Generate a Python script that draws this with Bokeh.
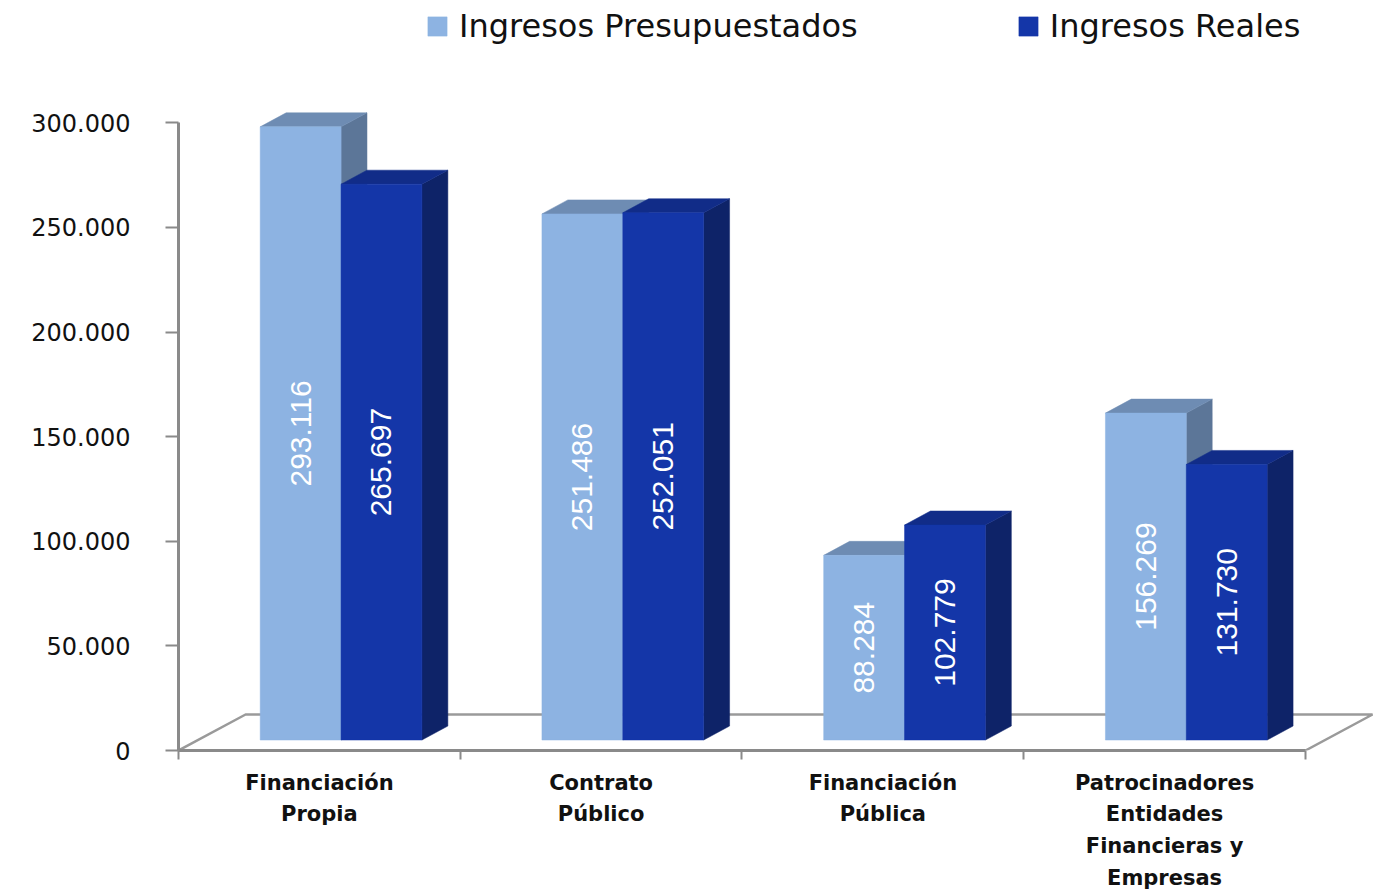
import math
from bokeh.plotting import figure
from bokeh.models import Range1d, FixedTicker, Legend, LegendItem, ColumnDataSource
from bokeh.core.properties import value
from bokeh.embed import file_html
from bokeh.resources import INLINE

# ---------------- data ----------------
categories = [
    "Financiación\nPropia",
    "Contrato\nPúblico",
    "Financiación\nPública",
    "Patrocinadores\nEntidades\nFinancieras y\nEmpresas",
]
series_names = ["Ingresos Presupuestados", "Ingresos Reales"]
presupuestados = [293116, 251486, 88284, 156269]
reales = [265697, 252051, 102779, 131730]
y_ticks = [0, 50000, 100000, 150000, 200000, 250000, 300000]
y_tick_labels = ["0", "50.000", "100.000", "150.000", "200.000", "250.000", "300.000"]

# ---------------- style ----------------
front_colors = ["#8DB3E2", "#1436A8"]
top_colors = ["#6E8CB3", "#112C88"]
side_colors = ["#5C7698", "#0E2368"]
AXIS_GRAY = "#8A8A8A"
BAR_OFFSET = 0.29     # category units
BAR_W = 0.287
DX = 0.092            # 3-D depth, category units
DY = 6700             # 3-D depth, value units
LIFT = 5000           # front face sits slightly above the floor front edge
FLOOR_DX = 0.238
FLOOR_DY = 17200

n = len(categories)
p = figure(
    frame_width=1196, frame_height=750,
    x_range=Range1d(0, 4.245), y_range=Range1d(0, 358500),
    output_backend="svg", toolbar_location=None,
    min_border_left=178, min_border_right=0, min_border_top=0, min_border_bottom=136,
)
p.outline_line_color = None
p.xgrid.visible = False
p.ygrid.visible = False
p.background_fill_color = "white"
p.border_fill_color = "white"

# floor (drawn first, behind the bars)
p.line(x=[0, FLOOR_DX, n + FLOOR_DX, n], y=[0, FLOOR_DY, FLOOR_DY, 0],
       line_color="#9A9A9A", line_width=2.5)

legend_items = []
for s, vals in enumerate([presupuestados, reales]):
    lefts = [i + BAR_OFFSET + s * BAR_W for i in range(n)]
    rights = [l + BAR_W for l in lefts]
    tops = [LIFT + v for v in vals]
    # side faces
    side_xs = [[r, r + DX, r + DX, r] for r in rights]
    side_ys = [[LIFT, LIFT + DY, t + DY, t] for t in tops]
    p.patches(side_xs, side_ys, fill_color=side_colors[s], line_color=side_colors[s], line_width=0.5)
    # top faces
    top_xs = [[l, r, r + DX, l + DX] for l, r in zip(lefts, rights)]
    top_ys = [[t, t, t + DY, t + DY] for t in tops]
    p.patches(top_xs, top_ys, fill_color=top_colors[s], line_color=top_colors[s], line_width=0.5)
    # front faces
    fr = p.quad(left=lefts, right=rights, bottom=[LIFT] * n, top=tops,
                fill_color=front_colors[s], line_color=front_colors[s], line_width=0.5)
    legend_items.append(LegendItem(label=series_names[s], renderers=[fr]))
    # value labels
    src = ColumnDataSource(dict(
        x=[(l + r) / 2 for l, r in zip(lefts, rights)],
        y=[LIFT + v / 2 for v in vals],
        t=[f"{v:,}".replace(",", ".") for v in vals],
    ))
    p.text(x="x", y="y", text="t", source=src, angle=math.pi / 2,
           text_align="center", text_baseline="middle", text_color="white",
           text_font=value("Liberation Sans"), text_font_size="30px")

# x axis
xa = p.xaxis[0]
xa.ticker = FixedTicker(ticks=[i + 0.5 for i in range(n)], minor_ticks=list(range(n + 1)))
xa.major_label_overrides = {i + 0.5: c for i, c in enumerate(categories)}
xa.bounds = (0, n)
xa.axis_line_color = AXIS_GRAY
xa.axis_line_width = 3
xa.major_tick_out = 0
xa.major_tick_in = 0
xa.minor_tick_out = 9
xa.minor_tick_in = 0
xa.minor_tick_line_color = AXIS_GRAY
xa.minor_tick_line_width = 2
xa.major_label_standoff = 11
xa.major_label_text_font = "DejaVu Sans"
xa.major_label_text_font_style = "bold"
xa.major_label_text_font_size = "21px"
xa.major_label_text_color = "#111111"
xa.major_label_text_line_height = 1.33

# y axis
ya = p.yaxis[0]
ya.ticker = FixedTicker(ticks=y_ticks, minor_ticks=[])
ya.major_label_overrides = {t: l for t, l in zip(y_ticks, y_tick_labels)}
ya.bounds = (0, 300000)
ya.axis_line_color = AXIS_GRAY
ya.axis_line_width = 3
ya.major_tick_out = 13
ya.major_tick_in = 0
ya.major_tick_line_color = AXIS_GRAY
ya.major_tick_line_width = 2
ya.minor_tick_out = 0
ya.minor_tick_in = 0
ya.major_label_standoff = 35
ya.major_label_text_font = "DejaVu Sans"
ya.major_label_text_font_size = "24px"
ya.major_label_text_color = "#111111"

legend = Legend(
    items=legend_items, location=(247, 705), orientation="horizontal",
    glyph_width=24, glyph_height=24, label_standoff=10, spacing=158,
    label_text_font="DejaVu Sans", label_text_font_size="32px", label_text_color="#111111",
    padding=0, margin=0, border_line_color=None, background_fill_alpha=0,
)
p.add_layout(legend)

open("out.html", "w").write(file_html(p, INLINE))
